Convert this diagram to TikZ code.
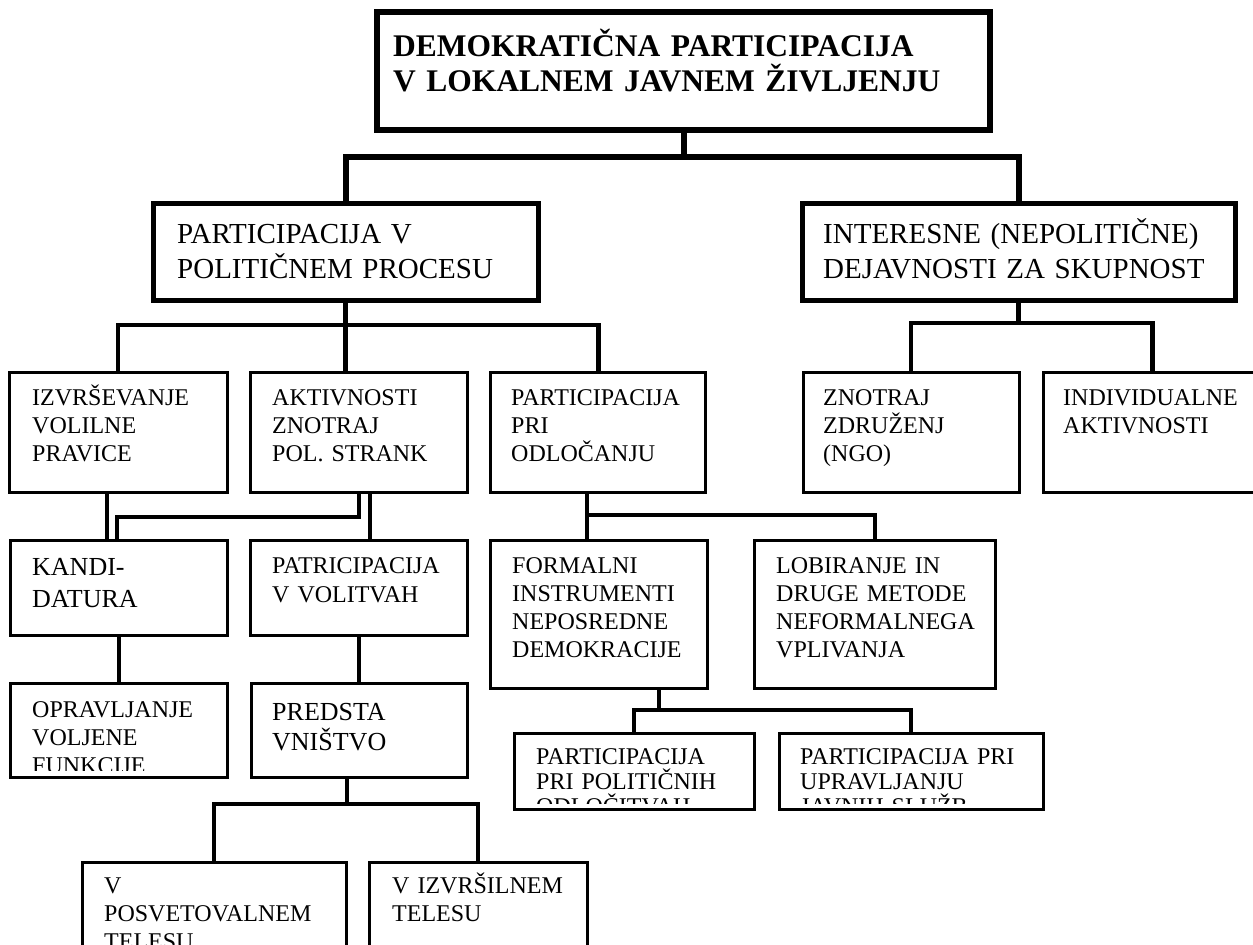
\documentclass[tikz,border=0pt]{standalone}
\usepackage{fontspec}
\setmainfont{Liberation Serif}
\newcommand\btext[5][9]{%
  \begin{scope}
    \clip (#2.north west) rectangle ([yshift=#1pt]#2.south east);
    \node[txt,#4] (#2-t) at (#3) {#5};
  \end{scope}}
\begin{document}
\begin{tikzpicture}[x=1pt,y=-1pt,
  box0/.style={draw,line width=6pt,outer sep=0pt,inner sep=0pt,anchor=north west},
  box1/.style={draw,line width=5pt,outer sep=0pt,inner sep=0pt,anchor=north west},
  box2/.style={draw,line width=3pt,outer sep=0pt,inner sep=0pt,anchor=north west},
  conn0/.style={line width=6pt,line join=miter},
  conn1/.style={line width=4.5pt,line join=miter},
  conn2/.style={line width=4pt,line join=miter},
  txt/.style={inner sep=0pt,anchor=base west,align=left,text width=760pt},
  ftitle/.style={font=\fontsize{31.5}{35}\selectfont\bfseries},
  fbig/.style={font=\fontsize{29}{35}\selectfont},
  fmid/.style={font=\fontsize{26}{32}\selectfont},
  fmidb/.style={font=\fontsize{26}{30}\selectfont},
  fsm/.style={font=\fontsize{24}{28}\selectfont},
  fsmb/.style={font=\fontsize{24}{29}\selectfont},
  fsmc/.style={font=\fontsize{24}{28.3}\selectfont},
  fsmd/.style={font=\fontsize{24}{25}\selectfont}]
\clip (0,0) rectangle (1253,945);
\fill[white] (0,0) rectangle (1253,945);
% boxes
\node[box0,minimum width=613pt,minimum height=118pt] (T) at (377,12) {};
\node[box1,minimum width=385pt,minimum height=97pt] (A) at (153,203) {};
\node[box1,minimum width=433pt,minimum height=97pt] (B) at (802,203) {};
\node[box2,minimum width=218pt,minimum height=120pt] (I1) at (9,372) {};
\node[box2,minimum width=217pt,minimum height=120pt] (I2) at (250,372) {};
\node[box2,minimum width=215pt,minimum height=120pt] (I3) at (490,372) {};
\node[box2,minimum width=216pt,minimum height=120pt] (Z) at (803,372) {};
\node[box2,minimum width=219pt,minimum height=120pt] (N) at (1043,372) {};
\node[box2,minimum width=217pt,minimum height=95pt] (K) at (10,540) {};
\node[box2,minimum width=217pt,minimum height=95pt] (P) at (250,540) {};
\node[box2,minimum width=217pt,minimum height=148pt] (F) at (490,540) {};
\node[box2,minimum width=241pt,minimum height=148pt] (L) at (754,540) {};
\node[box2,minimum width=217pt,minimum height=94pt] (O) at (10,683) {};
\node[box2,minimum width=216pt,minimum height=94pt] (PR) at (251,683) {};
\node[box2,minimum width=240pt,minimum height=76pt] (S1) at (514,733) {};
\node[box2,minimum width=264pt,minimum height=76pt] (S2) at (779,733) {};
\node[box2,minimum width=264pt,minimum height=100pt] (V1) at (82,862) {};
\node[box2,minimum width=218pt,minimum height=100pt] (V2) at (369,862) {};
% texts
\btext{T}{393,56}{ftitle}{DEMOKRATIČNA PARTICIPACIJA\\V LOKALNEM JAVNEM ŽIVLJENJU}
\btext{A}{177,243}{fbig}{PARTICIPACIJA V\\POLITIČNEM PROCESU}
\btext{B}{823,243}{fbig}{INTERESNE (NEPOLITIČNE)\\DEJAVNOSTI ZA SKUPNOST}
\btext{I1}{32,405}{fsm}{IZVRŠEVANJE\\VOLILNE\\PRAVICE}
\btext{I2}{272,405}{fsm}{AKTIVNOSTI\\ZNOTRAJ\\POL. STRANK}
\btext{I3}{511,405}{fsm}{PARTICIPACIJA\\PRI\\ODLOČANJU}
\btext{Z}{823,405}{fsm}{ZNOTRAJ\\ZDRUŽENJ\\(NGO)}
\btext{N}{1063,405}{fsm}{INDIVIDUALNE\\AKTIVNOSTI}
\btext{K}{32,575}{fmid}{KANDI-\\DATURA}
\btext{P}{272,573}{fsmb}{PATRICIPACIJA\\V VOLITVAH}
\btext{F}{512,573}{fsmc}{FORMALNI\\INSTRUMENTI\\NEPOSREDNE\\DEMOKRACIJE}
\btext{L}{776,573}{fsmc}{LOBIRANJE IN\\DRUGE METODE\\NEFORMALNEGA\\VPLIVANJA}
\btext[7]{O}{32,717}{fsm}{OPRAVLJANJE\\VOLJENE\\FUNKCIJE}
\btext{PR}{272,720}{fmidb}{PREDSTA\\VNIŠTVO}
\btext[6]{S1}{536,764}{fsmd}{PARTICIPACIJA\\PRI POLITIČNIH\\ODLOČITVAH}
\btext[6]{S2}{800,764}{fsmd}{PARTICIPACIJA PRI\\UPRAVLJANJU\\JAVNIH SLUŽB}
\btext{V1}{104,893}{fsm}{V\\POSVETOVALNEM\\TELESU}
\btext{V2}{392,893}{fsm}{V IZVRŠILNEM\\TELESU}
% connectors
\draw[conn0] (T.south) -- ++(0,27) coordinate (tj);
\draw[conn0] (A.north) |- (tj) -| (B.north);
\draw[conn1] (A.south) -- ++(0,25) coordinate (aj);
\draw[conn1] (I1.north) |- (aj) -| ([xshift=1pt]I3.north);
\draw[conn1] (aj) -- (aj |- I2.north);
\draw[conn1] (B.south) -- ++(0,23) coordinate (bj);
\draw[conn1] (Z.north) |- (bj) -| (N.north);
\draw[conn2] ([xshift=-11pt]I1.south) -- ++(0,48);
\draw[conn2] (I2.south) -- ++(0,25) -| ([xshift=-1.5pt]K.north);
\draw[conn2] ([xshift=11.5pt]I2.south) -- ([xshift=11.5pt]P.north);
\draw[conn2] ([xshift=-10.5pt]I3.south) -- ([xshift=-11.5pt]F.north);
\draw[conn2] ([xshift=-10.5pt]I3.south) ++(0,23) -| (L.north);
\draw[conn2] (K.south) -- (O.north);
\draw[conn2] (P.south) -- (P.south |- PR.north);
\draw[conn2] ([xshift=60.5pt]F.south) -- ++(0,22) coordinate (fj);
\draw[conn2] (S1.north) |- (fj) -| (S2.north);
\draw[conn2] ([xshift=-12pt]PR.south) -- ++(0,27) coordinate (pj);
\draw[conn2] (V1.north) |- (pj) -| (V2.north);
\end{tikzpicture}
\end{document}
